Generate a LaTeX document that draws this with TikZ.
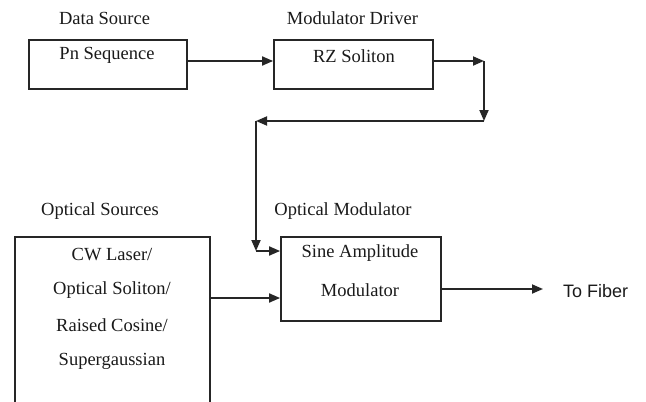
\documentclass[tikz,border=0pt]{standalone}
\usepackage{fontspec}
\setmainfont{Liberation Serif}
\newfontfamily\labsans{Liberation Sans}
\usetikzlibrary{arrows.meta}
\definecolor{ink}{HTML}{262626}
\definecolor{txt}{HTML}{1A1A1A}
\begin{document}
\begin{tikzpicture}[x=1pt,y=-1pt,
  box/.style={draw=ink,line width=1.8pt,rectangle,inner sep=0pt},
  lab/.style={text=txt,font=\fontsize{18.5}{20}\selectfont,inner sep=0pt},
  arr/.style={draw=ink,line width=1.8pt,-{Triangle[length=11pt,width=9pt]}},
  ln/.style={draw=ink,line width=1.8pt}]
\clip (0,0) rectangle (646,402);
\fill[white] (0,0) rectangle (646,402);
% boxes
\node[box,minimum width=158pt,minimum height=49pt] (pn) at (108,64.5) {};
\node[box,minimum width=159pt,minimum height=49pt] (rz) at (353.5,64.5) {};
\node[box,minimum width=195pt,minimum height=193pt] (os) at (112.5,333.5) {};
\node[box,minimum width=160pt,minimum height=84pt] (sam) at (361,279) {};
% headings
\node[lab] (h1) at (104.5,18) {Data Source};
\node[lab] (h2) at (352.5,18) {Modulator Driver};
\node[lab] (h3) at (100,211) {Optical Sources};
\node[lab] (h4) at (343,211) {Optical Modulator};
% box texts
\node[lab] (t1) at (107,55) {Pn Sequence};
\node[lab] (t2) at (354,56) {RZ Soliton};
\node[lab] (t3) at (112,255) {CW Laser/};
\node[lab] (t4) at (112,290) {Optical Soliton/};
\node[lab] (t5) at (112,325) {Raised Cosine/};
\node[lab] (t6) at (112,361) {Supergaussian};
\node[lab] (t7) at (360,253) {Sine Amplitude};
\node[lab] (t8) at (360,290) {Modulator};
\node[text=txt,font=\labsans\fontsize{18}{20}\selectfont,inner sep=0pt,anchor=west] (fib) at (563,291) {To Fiber};
% corner coordinates
\coordinate (c1) at (484,61);
\coordinate (c2) at (484,121);
\coordinate (c3) at (256,121);
\coordinate (c4) at (256,251);
\coordinate (fe) at (543,289);
% connectors
\draw[arr] ([yshift=3.5pt]pn.east) -- ([yshift=3.5pt]rz.west);
\draw[arr] ([yshift=3.5pt]rz.east) -- (c1);
\draw[arr] (c1) -- (c2);
\draw[arr] (c2) -- (c3);
\draw[arr] (c3) -- (c4);
\draw[arr] (c4) -- (sam.west |- c4);
\draw[arr] (os.east |- 0,298) -- (sam.west |- 0,298);
\draw[arr] (sam.east |- fe) -- (fe);
\end{tikzpicture}
\end{document}
